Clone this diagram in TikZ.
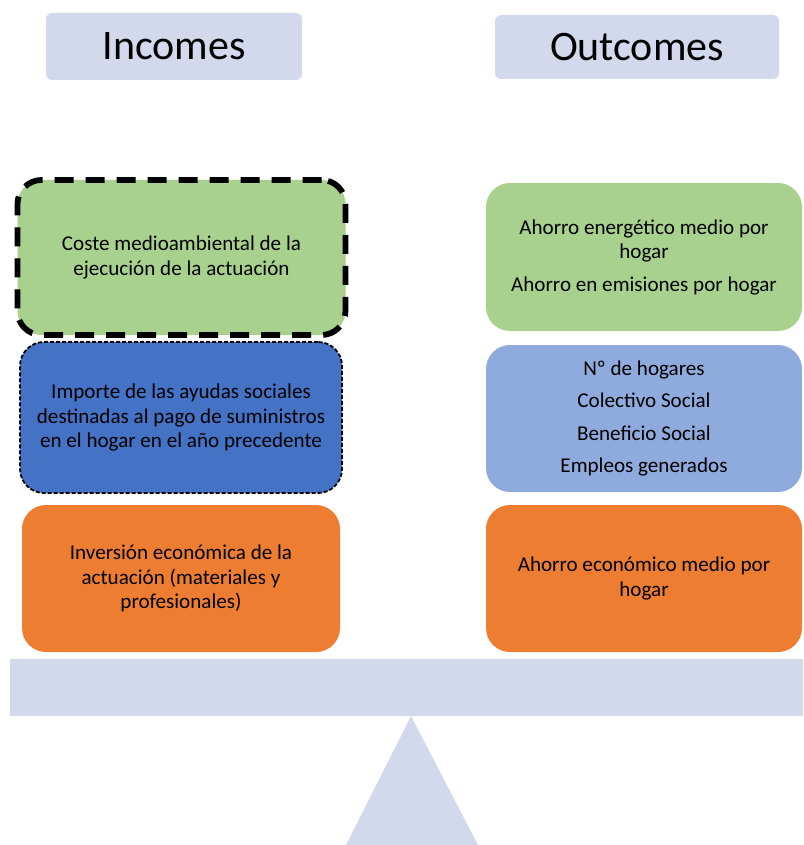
\documentclass[tikz,border=0pt]{standalone}
\usepackage{fontspec}
\setmainfont{Carlito}
\definecolor{scalegray}{HTML}{D3D9EC}
\definecolor{envgreen}{HTML}{A9D18E}
\definecolor{aidblue}{HTML}{4472C4}
\definecolor{socblue}{HTML}{8FAADC}
\definecolor{ecoorange}{HTML}{ED7D31}
\begin{document}
\begin{tikzpicture}[x=1pt,y=-1pt,
  header/.style={fill=scalegray, rounded corners=6pt, inner sep=0pt,
    font=\fontsize{42}{50}\selectfont},
  item/.style={rounded corners=24pt, inner sep=0pt, align=center,
    font=\fontsize{21.1}{24.5}\selectfont, text=black},
  heavydash/.style={draw=black, line width=5.8pt, dash pattern=on 19pt off 12pt},
  finedash/.style={draw=black, line width=1.8pt, dash pattern=on 4pt off 2pt}]
\useasboundingbox (0,0) rectangle (803,845);

% column headers
\node[header, minimum width=256pt, minimum height=67pt] (inc) at (174,46.5) {Incomes};
\node[header, minimum width=284pt, minimum height=64pt] (out) at (637,47) {Outcomes};

% income side
\node[item, fill=envgreen, heavydash, minimum width=328pt, minimum height=155pt] (incenv) at (181.5,257.5)
  {Coste medioambiental de la\\ejecución de la actuación};
\node[item, fill=aidblue, finedash, minimum width=322pt, minimum height=151pt] (incaid) at (181,417.5)
  {Importe de las ayudas sociales\\destinadas al pago de suministros\\en el hogar en el año precedente};
\node[item, fill=ecoorange, minimum width=318pt, minimum height=147pt] (inceco) at (181,578.5)
  {Inversión económica de la\\actuación (materiales y\\profesionales)};

% outcome side
\node[item, fill=envgreen, minimum width=316pt, minimum height=148pt] (outenv) at (644,257)
  {Ahorro energético medio por\\hogar\\[8pt]Ahorro en emisiones por hogar};
\node[item, fill=socblue, minimum width=316pt, minimum height=147pt] (outsoc) at (644,418.5)
  {Nº de hogares\\[8pt]Colectivo Social\\[8pt]Beneficio Social\\[8pt]Empleos generados};
\node[item, fill=ecoorange, minimum width=316pt, minimum height=147pt] (outeco) at (644,578.5)
  {Ahorro económico medio por\\hogar};

% balance beam and fulcrum
\fill[scalegray] (10,659) rectangle (803,716);
\fill[scalegray] (411,716) -- (478,845) -- (346,845) -- cycle;
\end{tikzpicture}
\end{document}
